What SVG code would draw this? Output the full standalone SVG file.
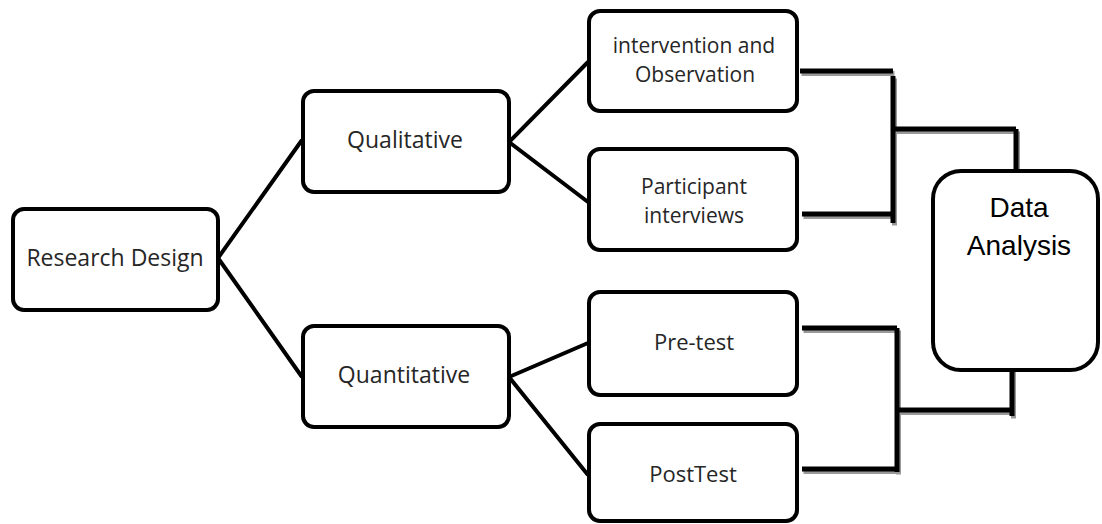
<svg xmlns="http://www.w3.org/2000/svg" width="1102" height="524" viewBox="0 0 1102 524">
<style>
.box{fill:#fff;stroke:#000;stroke-width:4}
.lbl{font-family:"Open Sans","DejaVu Sans",sans-serif;fill:#262626;text-anchor:middle}
.big{font-size:23px}
.sm{font-size:22px}
.two{font-size:21px}
.da{font-family:"Liberation Sans",Arial,sans-serif;font-size:28px;fill:#000;text-anchor:middle}
.ln{fill:none;stroke:#000;stroke-width:4}
.br{fill:none;stroke:#000;stroke-width:5}
.sh{fill:none;stroke:#999;stroke-width:5}
</style>
<rect width="1102" height="524" fill="#fff"/>
<g id="connectors">
<path class="ln" d="M218,258 L302,140 M218,258 L302,377 M509,142 L588,62 M509,142 L588,202 M509,377 L588,343 M509,377 L588,475"/>
<g transform="translate(1.5,2.5)">
<path class="sh" d="M800,71 H893 M802,214 H893 M893,76 V223 M893,129 H1016 M1016,129 V170 M802,328 H897 M802,469 H895 M897,328 V472 M897,410 H1012 M1012,352 V416"/>
</g>
<path class="br" d="M800,71 H893 M802,214 H893 M893,76 V223 M893,129 H1016 M1016,129 V170 M802,328 H897 M802,469 H895 M897,328 V472 M897,410 H1012 M1012,352 V416"/>
</g>
<g id="research-design">
<rect class="box" x="13" y="209" width="205" height="101" rx="11"/>
<text class="lbl big" x="115" y="266">Research Design</text>
</g>
<g id="qualitative">
<rect class="box" x="303" y="91" width="206" height="101" rx="11"/>
<text class="lbl big" x="405" y="148">Qualitative</text>
</g>
<g id="quantitative">
<rect class="box" x="303" y="326" width="206" height="101" rx="11"/>
<text class="lbl big" x="404" y="383">Quantitative</text>
</g>
<g id="intervention">
<rect class="box" x="589" y="11" width="208" height="100" rx="11"/>
<text class="lbl two" x="694" y="53">intervention and</text>
<text class="lbl two" x="695" y="82">Observation</text>
</g>
<g id="participant">
<rect class="box" x="589" y="149" width="208" height="101" rx="11"/>
<text class="lbl two" x="694" y="194">Participant</text>
<text class="lbl two" x="694" y="223">interviews</text>
</g>
<g id="pre-test">
<rect class="box" x="589" y="292" width="208" height="103" rx="11"/>
<text class="lbl sm" x="694" y="350">Pre-test</text>
</g>
<g id="post-test">
<rect class="box" x="589" y="424" width="208" height="97" rx="11"/>
<text class="lbl sm" x="693" y="482">PostTest</text>
</g>
<g id="data-analysis">
<rect class="box" x="933" y="171" width="165" height="199" rx="28"/>
<text class="da" x="1019" y="217">Data</text>
<text class="da" x="1019" y="255">Analysis</text>
</g>
</svg>
